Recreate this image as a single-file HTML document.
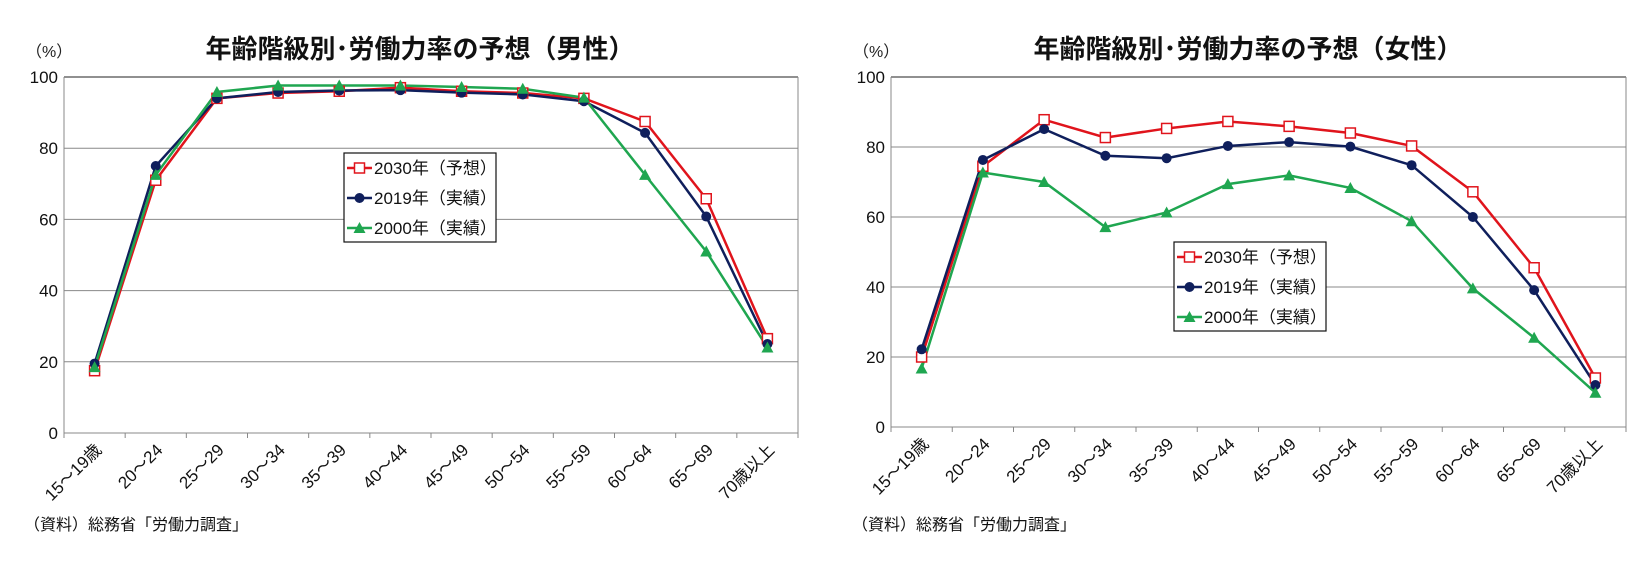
<!DOCTYPE html>
<html><head><meta charset="utf-8">
<style>
html,body{margin:0;padding:0;background:#fff;}
svg{display:block;font-family:"Liberation Sans","Noto Sans CJK JP",sans-serif;}
</style></head>
<body>
<svg id="chart" width="1649" height="578" viewBox="0 0 1649 578"></svg>
<script>
const categories = ["15～19歳","20～24","25～29","30～34","35～39","40～44","45～49","50～54","55～59","60～64","65～69","70歳以上"];
const yTicks = [0,20,40,60,80,100];
const seriesNames = ["2030年（予想）","2019年（実績）","2000年（実績）"];
const male2030 = [17.5,71,94,95.5,96,97,96,95.5,94,87.5,65.8,26.5];
const male2019 = [19.5,75,94,95.8,96.2,96.3,95.6,95.1,93.2,84.3,60.8,25];
const male2000 = [18.5,72.5,95.8,97.6,97.6,97.6,97.2,96.7,94.2,72.5,51,24];
const female2030 = [20,74.5,87.8,82.7,85.3,87.3,85.9,84,80.3,67.2,45.5,14];
const female2019 = [22.2,76.3,85.1,77.5,76.8,80.3,81.4,80.1,74.8,60,39.1,12];
const female2000 = [16.7,72.7,70,57.1,61.3,69.4,71.9,68.3,58.8,39.6,25.5,9.8];

const NS="http://www.w3.org/2000/svg";
const svg=document.getElementById('chart');
function mk(tag,attrs,parent,text){const e=document.createElementNS(NS,tag);for(const k in attrs)e.setAttribute(k,attrs[k]);if(text!==undefined)e.textContent=text;(parent||svg).appendChild(e);return e;}
const colors=["#e0141c","#0f1f5c","#1fa650"];

function drawChart(cfg){
  const g=mk('g',{});
  
  
  const {x0,x1,yTop,yBot}=cfg;
  const n=categories.length, step=(x1-x0)/n;
  const xs=i=>x0+step*(i+0.5);
  const ys=v=>yBot-(v/100)*(yBot-yTop);
  const t=mk('text',{x:cfg.titleX,y:58,'text-anchor':'middle','font-size':26,'font-weight':'bold',fill:'#111'},g,cfg.title);
  
  
  const u=mk('text',{x:x0-38,y:57,'font-size':16,fill:'#222'},g,'（%）');
  
  
  yTicks.forEach(v=>{
    if(v>0){const gl=mk('line',{x1:x0,x2:x1,y1:ys(v),y2:ys(v),stroke:v===100?'#333':'#888','stroke-width':1},g);
      
      }
    const tl=mk('text',{x:x0-6,y:ys(v)+6,'text-anchor':'end','font-size':17,fill:'#111'},g,String(v));
    
    
  });
  mk('line',{x1:x0,x2:x1,y1:yTop,y2:yTop,stroke:'#222','stroke-width':1},g);
  mk('line',{x1:x1,x2:x1,y1:yTop,y2:yBot,stroke:'#888','stroke-width':1},g);
  const ya=mk('line',{x1:x0,x2:x0,y1:yTop,y2:yBot+5,stroke:'#888','stroke-width':1},g);
  
  
  const xa=mk('line',{x1:x0,x2:x1,y1:yBot,y2:yBot,stroke:'#888','stroke-width':1},g);
  
  
  for(let i=0;i<=n;i++){mk('line',{x1:x0+step*i,x2:x0+step*i,y1:yBot,y2:yBot+5,stroke:'#888'},g);}
  categories.forEach((c,i)=>{
    const cx=xs(i)+8, cy=yBot+18;
    const l=mk('text',{x:cx,y:cy,'text-anchor':'end','font-size':17,fill:'#111',transform:`rotate(-45 ${cx} ${cy})`},g,c);
    
    
  });
  cfg.series.forEach((data,si)=>{
    const pts=data.map((v,i)=>xs(i)+','+ys(v)).join(' ');
    const pl=mk('polyline',{points:pts,fill:'none',stroke:colors[si],'stroke-width':2.5},g);
    
    
  });
  cfg.series.forEach((data,si)=>{
    data.forEach((v,i)=>{
      const m=marker(si,xs(i),ys(v),g);
      
      
    });
  });
  const L=cfg.legend;
  const lg=mk('g',{},g);
  
  
  mk('rect',{x:L.x,y:L.y,width:152,height:89,fill:'#fff',stroke:'#111','stroke-width':1.2},lg);
  seriesNames.forEach((s,si)=>{
    const ry=L.y+15+si*30;
    const e=mk('g',{},lg);
    
    
    mk('line',{x1:L.x+3,x2:L.x+28,y1:ry,y2:ry,stroke:colors[si],'stroke-width':2.5},e);
    marker(si,L.x+15.5,ry,e);
    mk('text',{x:L.x+30,y:ry+6,'font-size':17,fill:'#111'},e,s);
  });
  const f=mk('text',{x:cfg.footX,y:530,'font-size':16,fill:'#111'},g,'（資料）総務省「労働力調査」');
  
  
}
function marker(si,x,y,p){
  if(si===0)return mk('rect',{x:x-5,y:y-5,width:10,height:10,fill:'#fff',stroke:colors[0],'stroke-width':1.5},p);
  if(si===1)return mk('circle',{cx:x,cy:y,r:5,fill:colors[1]},p);
  return mk('polygon',{points:`${x},${y-6} ${x-6},${y+5} ${x+6},${y+5}`,fill:colors[2]},p);
}
drawChart({name:'male-chart',title:'年齢階級別･労働力率の予想（男性）',titleX:420,x0:64,x1:798,yTop:77,yBot:433,
  series:[male2030,male2019,male2000],legend:{x:344,y:153},footX:24});
drawChart({name:'female-chart',title:'年齢階級別･労働力率の予想（女性）',titleX:1248,x0:891,x1:1626,yTop:77,yBot:427,
  series:[female2030,female2019,female2000],legend:{x:1174,y:242},footX:852});
</script>
</body></html>
